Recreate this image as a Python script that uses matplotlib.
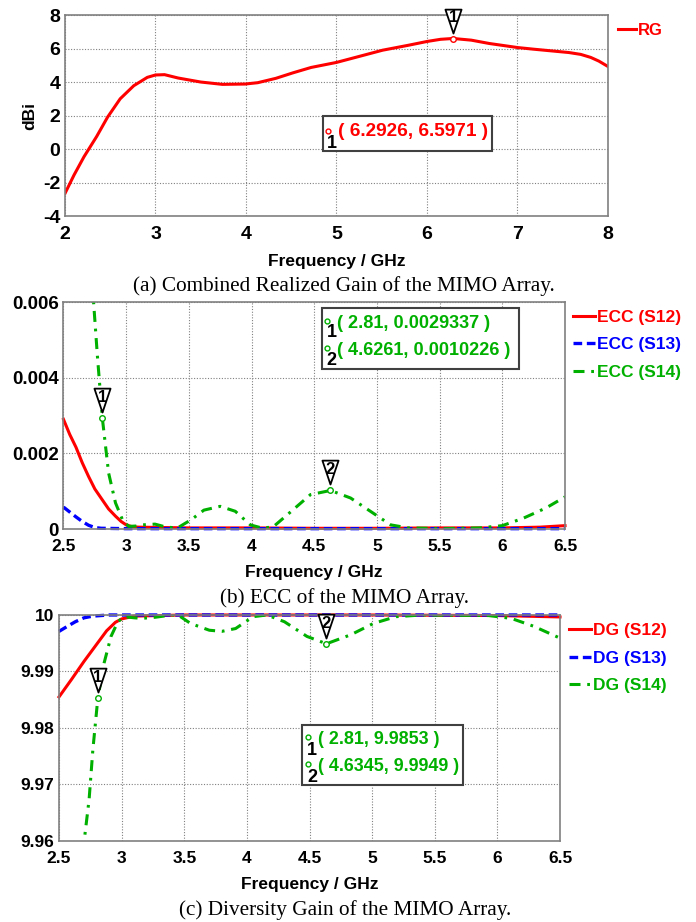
import matplotlib
matplotlib.use('Agg')
import matplotlib.pyplot as plt
from matplotlib.path import Path
from matplotlib.patches import Rectangle

# (a) combined realized gain
rg_f = [2.0, 2.1, 2.21, 2.35, 2.47, 2.61, 2.76, 2.91, 3.0, 3.1, 3.25, 3.5, 3.74, 3.99,
        4.13, 4.33, 4.52, 4.72, 5.0, 5.21, 5.51, 5.8, 6.0, 6.15, 6.29, 6.49, 6.69, 7.0,
        7.18, 7.57, 7.7, 7.81, 7.9, 8.0]
rg_v = [-2.65, -1.55, -0.46, 0.75, 1.9, 3.0, 3.78, 4.28, 4.42, 4.44, 4.24, 4.0, 3.86, 3.88,
        3.96, 4.22, 4.55, 4.87, 5.17, 5.47, 5.9, 6.2, 6.42, 6.55, 6.6, 6.5, 6.3, 6.06,
        5.96, 5.76, 5.65, 5.47, 5.25, 4.93]
rg_marker = (6.2926, 6.5971)

# (b) ECC
ecc12_f = [2.5, 2.55, 2.6, 2.65, 2.7, 2.75, 2.81, 2.86, 2.915, 2.96, 3.0, 3.05, 3.1, 3.5,
           4.0, 4.5, 5.0, 5.5, 6.0, 6.3, 6.5]
ecc12_v = [0.0029, 0.0025, 0.00216, 0.00175, 0.00139, 0.00106, 0.00077, 0.00053, 0.00034,
           0.0002, 0.00011, 0.00006, 0.00005, 0.00003, 0.00003, 0.00002, 0.00002, 0.00003,
           0.00003, 0.00005, 0.00009]
ecc13_f = [2.5, 2.55, 2.6, 2.65, 2.7, 2.75, 2.8, 3.0, 4.0, 5.0, 6.0, 6.5]
ecc13_v = [0.00058, 0.00045, 0.00032, 0.0002, 0.0001, 0.00004, 0.00002, 0.00001, 0.00001,
           0.00001, 0.00001, 0.00001]
ecc14_f = [2.72, 2.74, 2.77, 2.81, 2.86, 2.915, 2.97, 3.02, 3.08, 3.13, 3.23, 3.32, 3.41,
           3.52, 3.62, 3.75, 3.87, 3.99, 4.08, 4.17, 4.3, 4.47, 4.63, 4.79, 4.97, 5.11,
           5.25, 5.54, 5.82, 6.0, 6.17, 6.35, 6.5]
ecc14_v = [0.0072, 0.006, 0.0046, 0.00293, 0.00148, 0.00069, 0.00025, 0.00007, 0.00008,
           0.00011, 0.00013, 0.00005, 0.00003, 0.00025, 0.0005, 0.0006, 0.00047, 0.00011,
           0.00003, 0.00005, 0.00042, 0.00091, 0.00102, 0.00082, 0.00042, 0.00011, 0.00003,
           0.00001, 0.00003, 0.00009, 0.00029, 0.00056, 0.00085]
ecc_markers = [(2.81, 0.0029337), (4.6261, 0.0010226)]

# (c) diversity gain
dg12_f = [2.5, 2.6, 2.7, 2.8, 2.88, 2.95, 3.0, 3.1, 3.5, 4.0, 5.0, 6.0, 6.5]
dg12_v = [9.9855, 9.9886, 9.9918, 9.9948, 9.9972, 9.9987, 9.9993, 9.9998, 10.0, 10.0, 10.0,
          9.9999, 9.99965]
dg13_f = [2.5, 2.56, 2.63, 2.7, 2.77, 2.9, 4.0, 5.0, 6.5]
dg13_v = [9.9971, 9.9979, 9.9988, 9.9995, 9.9998, 10.0, 10.0, 10.0, 10.0]
dg14_f = [2.69, 2.74, 2.77, 2.81, 2.86, 2.915, 2.97, 3.02, 3.1, 3.16, 3.27, 3.4, 3.45, 3.55,
          3.7, 3.8, 3.91, 4.05, 4.16, 4.3, 4.48, 4.635, 4.83, 5.01, 5.19, 5.4, 5.93, 6.11,
          6.29, 6.5]
dg14_v = [9.958, 9.9673, 9.9761, 9.9853, 9.9915, 9.9962, 9.9988, 9.9997, 9.9995, 9.9994,
          9.9996, 10.0, 10.0, 9.9985, 9.9973, 9.9971, 9.9976, 9.9997, 10.0, 9.9988, 9.9962,
          9.9949, 9.9965, 9.9985, 9.9997, 10.0, 9.9999, 9.9994, 9.998, 9.9959]
dg_markers = [(2.81, 9.9853), (4.6345, 9.9949)]

RED, BLUE, GREEN = '#ff0000', '#0000ff', '#00b000'
DASH = (0, (2.6, 1.4))
DASHDOT = (0, (3.6, 2.2, 0.9, 2.2))
plt.rcParams['font.family'] = ['Liberation Sans', 'DejaVu Sans']
plt.rcParams['font.weight'] = 'bold'
SERIF = ['Liberation Serif', 'DejaVu Serif']

# inverted triangle flag, tip a little above the point
tri = Path([(-0.27, 1.0), (0.27, 1.0), (0.0, 0.2), (-0.27, 1.0)],
           [Path.MOVETO, Path.LINETO, Path.LINETO, Path.CLOSEPOLY])


def style(ax, xlim, ylim, xticks, xlabels, yticks, ylabels, fs, yfs):
    ax.set_xlim(*xlim)
    ax.set_ylim(*ylim)
    ax.set_xticks(xticks)
    ax.set_xticklabels(xlabels)
    ax.set_yticks(yticks)
    ax.set_yticklabels(ylabels)
    ax.tick_params(length=0)
    ax.tick_params(axis='x', pad=7, labelsize=fs)
    ax.tick_params(axis='y', pad=3.5, labelsize=yfs)
    for lab in ax.get_xticklabels() + ax.get_yticklabels():
        lab.set_fontweight('bold')
    ax.grid(True, color='#808080', linestyle=(0, (1, 1.5)), linewidth=0.8)
    for s in ax.spines.values():
        s.set_color('#808080')
        s.set_linewidth(1.2)
    ax.set_xlabel('Frequency / GHz', fontsize=12.5, fontweight='bold', labelpad=8)


def flag(ax, x, y, num, color):
    ax.plot([x], [y], marker='o', ms=4, mfc='white', mec=color, mew=1, clip_on=False, zorder=5)
    ax.plot([x], [y], marker=tri, ms=43, mfc='white', mec='black', mew=1.3, clip_on=False,
            zorder=6)
    ax.annotate(num, (x, y), xytext=(0, 14.8), textcoords='offset points', ha='center',
                va='center', fontsize=12, fontweight='bold', zorder=7, annotation_clip=False)


def box(ax, x0, y0, x1, y1, rows, color, fs):
    ax.add_patch(Rectangle((x0, y0), x1 - x0, y1 - y0, transform=ax.transAxes, fill=True,
                           facecolor='white', edgecolor='#404040', lw=1.5, zorder=8))
    for cx, cy, nx, ny, tx, ty, num, txt in rows:
        ax.plot([cx], [cy], marker='o', ms=3.5, mfc='white', mec=color, mew=1,
                transform=ax.transAxes, zorder=9)
        ax.text(nx, ny, num, transform=ax.transAxes, ha='center', va='center', fontsize=13,
                fontweight='bold', zorder=9)
        ax.text(tx, ty, txt, transform=ax.transAxes, ha='left', va='center', fontsize=fs,
                fontweight='bold', color=color, zorder=9)


def legend(ax, anchor, fs, hl, ls=0.76):
    ax.legend(loc='upper left', bbox_to_anchor=anchor, borderaxespad=0, frameon=False,
              handlelength=hl, handletextpad=0.1, labelspacing=ls, labelcolor='linecolor',
              prop={'weight': 'bold', 'size': fs})


fig = plt.figure(figsize=(6.96, 9.22), dpi=100)
xt = [2.5 + 0.5 * i for i in range(9)]
xl = ['2.5', '3', '3.5', '4', '4.5', '5', '5.5', '6', '6.5']

# ---- (a)
ax1 = fig.add_axes([0.0934, 0.7657, 0.780, 0.218])
ax1.plot(rg_f, rg_v, color=RED, lw=2.2, label='RG')
flag(ax1, rg_marker[0], rg_marker[1], '1', RED)
style(ax1, (2, 8), (-4, 8), range(2, 9), [str(v) for v in range(2, 9)],
      range(-4, 9, 2), [str(v) for v in range(-4, 9, 2)], 14, 14)
ax1.set_ylabel('dBi', fontsize=12.5, fontweight='bold', labelpad=4)
box(ax1, 0.475, 0.323, 0.786, 0.4975,
    [(0.484, 0.424, 0.492, 0.363, 0.502, 0.422, '1', '( %.4f, %.4f )' % rg_marker)], RED,
    13.7)
legend(ax1, (1.006, 0.995), 12, 1.1)
fig.text(0.494, 0.690, '(a) Combined Realized Gain of the MIMO Array.', ha='center',
         va='center', fontsize=15.3, fontweight='normal', family=SERIF)

# ---- (b)
ax2 = fig.add_axes([0.0912, 0.4262, 0.7206, 0.2462])
ax2.plot(ecc12_f, ecc12_v, color=RED, lw=2.2, label='ECC (S12)', clip_on=False)
ax2.plot(ecc13_f, ecc13_v, color=BLUE, lw=2.4, ls=DASH, label='ECC (S13)', clip_on=False)
ax2.plot(ecc14_f, ecc14_v, color=GREEN, lw=2.2, ls=DASHDOT, label='ECC (S14)')
for i, (x, y) in enumerate(ecc_markers):
    flag(ax2, x, y, str(i + 1), GREEN)
style(ax2, (2.5, 6.5), (0, 0.006), xt, xl,
      [0, 0.002, 0.004, 0.006], ['0', '0.002', '0.004', '0.006'], 12.5, 13.5)
box(ax2, 0.516, 0.707, 0.908, 0.975,
    [(0.526, 0.916, 0.535, 0.865, 0.546, 0.905, '1', '( %.2f, %.7f )' % ecc_markers[0]),
     (0.526, 0.797, 0.535, 0.744, 0.546, 0.786, '2', '( %.4f, %.7f )' % ecc_markers[1])],
    GREEN, 13.1)
legend(ax2, (1.002, 0.998), 12.5, 1.27, 0.72)
fig.text(0.495, 0.3514, '(b) ECC of the MIMO Array.', ha='center', va='center',
         fontsize=15.3, fontweight='normal', family=SERIF)

# ---- (c)
ax3 = fig.add_axes([0.0848, 0.0879, 0.7198, 0.2451])
ax3.plot(dg12_f, dg12_v, color=RED, lw=2.2, label='DG (S12)', clip_on=False)
ax3.plot(dg13_f, dg13_v, color=BLUE, lw=2.4, ls=DASH, label='DG (S13)', clip_on=False)
ax3.plot(dg14_f, dg14_v, color=GREEN, lw=2.2, ls=DASHDOT, label='DG (S14)')
for i, (x, y) in enumerate(dg_markers):
    flag(ax3, x, y, str(i + 1), GREEN)
style(ax3, (2.5, 6.5), (9.96, 10.0), xt, xl,
      [9.96, 9.97, 9.98, 9.99, 10.0], ['9.96', '9.97', '9.98', '9.99', '10'], 12.5, 12.5)
box(ax3, 0.486, 0.248, 0.806, 0.513,
    [(0.496, 0.459, 0.505, 0.40, 0.516, 0.447, '1', '( %.2f, %.4f )' % dg_markers[0]),
     (0.496, 0.341, 0.505, 0.282, 0.516, 0.329, '2', '( %.4f, %.4f )' % dg_markers[1])],
    GREEN, 12.9)
legend(ax3, (1.004, 0.996), 12.5, 1.27, 0.72)
fig.text(0.496, 0.013, '(c) Diversity Gain of the MIMO Array.', ha='center', va='center',
         fontsize=15.3, fontweight='normal', family=SERIF)

fig.savefig('out.png', dpi=100)
